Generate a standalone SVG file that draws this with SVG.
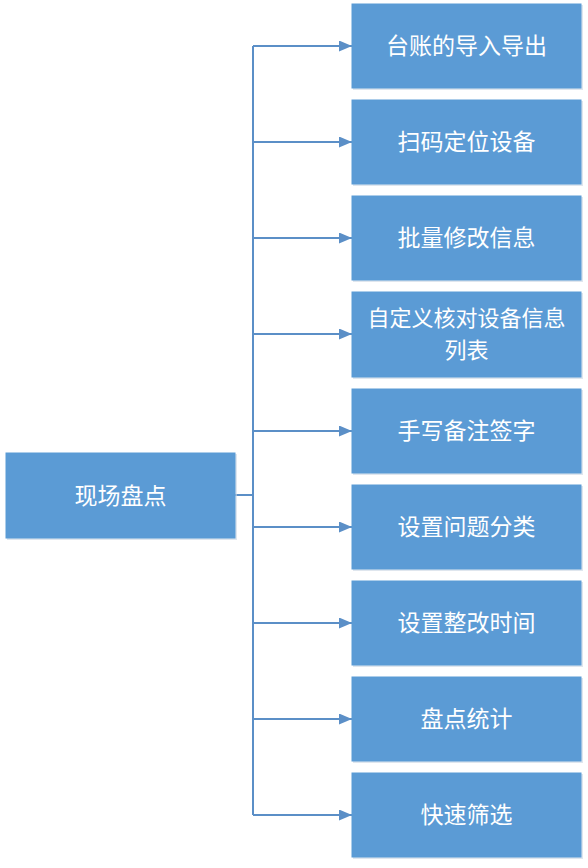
<svg xmlns="http://www.w3.org/2000/svg" width="588" height="868" viewBox="0 0 588 868">
<defs>
<style>
.box{fill:#5B9BD5;stroke:#5B9BD5;stroke-width:1}
.shadow{fill:#c9d6e3;opacity:0.6}
.t{fill:#ffffff;font-family:"Noto Sans CJK SC","Noto Sans CJK TC",sans-serif;font-size:23px;text-anchor:middle;dominant-baseline:central}
.t2{font-size:22px}
.c{fill:none;stroke:#5B8FC7;stroke-width:2}
</style>
<marker id="ah" markerWidth="13" markerHeight="11" refX="13" refY="5.5" orient="auto" markerUnits="userSpaceOnUse">
<path d="M0,0 L13,5.5 L0,11 Z" fill="#5B8FC7"/>
</marker>
</defs>
<rect width="588" height="868" fill="#ffffff"/>
<g id="connectors">
<path class="c" d="M235,495 H253"/>
<path class="c" d="M253,46 V815"/>
<path class="c" d="M253,46 H352" marker-end="url(#ah)"/>
<path class="c" d="M253,142 H352" marker-end="url(#ah)"/>
<path class="c" d="M253,238 H352" marker-end="url(#ah)"/>
<path class="c" d="M253,334 H352" marker-end="url(#ah)"/>
<path class="c" d="M253,431 H352" marker-end="url(#ah)"/>
<path class="c" d="M253,527 H352" marker-end="url(#ah)"/>
<path class="c" d="M253,623 H352" marker-end="url(#ah)"/>
<path class="c" d="M253,719 H352" marker-end="url(#ah)"/>
<path class="c" d="M253,815 H352" marker-end="url(#ah)"/>
</g>
<g id="root">
<rect class="shadow" x="7" y="454" width="230" height="86"/>
<rect class="box" x="6" y="453" width="229" height="85"/>
<text class="t" x="120.5" y="493.5">现场盘点</text>
</g>
<g id="n1"><rect class="shadow" x="353" y="5" width="230" height="85"/><rect class="box" x="352" y="4" width="229" height="84"/><text class="t" x="466.5" y="44">台账的导入导出</text></g>
<g id="n2"><rect class="shadow" x="353" y="101" width="230" height="85"/><rect class="box" x="352" y="100" width="229" height="84"/><text class="t" x="466.5" y="140">扫码定位设备</text></g>
<g id="n3"><rect class="shadow" x="353" y="197" width="230" height="85"/><rect class="box" x="352" y="196" width="229" height="84"/><text class="t" x="466.5" y="236">批量修改信息</text></g>
<g id="n4"><rect class="shadow" x="353" y="293" width="230" height="86"/><rect class="box" x="352" y="292" width="229" height="85"/><text class="t t2" x="466.5" y="316">自定义核对设备信息</text><text class="t t2" x="466.5" y="348">列表</text></g>
<g id="n5"><rect class="shadow" x="353" y="390" width="230" height="85"/><rect class="box" x="352" y="389" width="229" height="84"/><text class="t" x="466.5" y="429">手写备注签字</text></g>
<g id="n6"><rect class="shadow" x="353" y="486" width="230" height="85"/><rect class="box" x="352" y="485" width="229" height="84"/><text class="t" x="466.5" y="525">设置问题分类</text></g>
<g id="n7"><rect class="shadow" x="353" y="582" width="230" height="85"/><rect class="box" x="352" y="581" width="229" height="84"/><text class="t" x="466.5" y="621">设置整改时间</text></g>
<g id="n8"><rect class="shadow" x="353" y="678" width="230" height="85"/><rect class="box" x="352" y="677" width="229" height="84"/><text class="t" x="466.5" y="717">盘点统计</text></g>
<g id="n9"><rect class="shadow" x="353" y="774" width="230" height="85"/><rect class="box" x="352" y="773" width="229" height="84"/><text class="t" x="466.5" y="813">快速筛选</text></g>
</svg>
